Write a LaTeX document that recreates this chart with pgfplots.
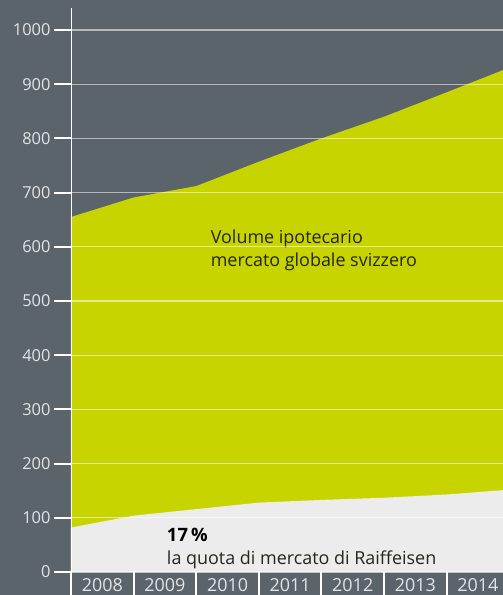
\documentclass[border=0pt]{standalone}
\usepackage{pgfplots}
\pgfplotsset{compat=1.18}
\usepackage{fontspec}
\setmainfont{Open Sans}
\definecolor{bg}{HTML}{5B646A}
\definecolor{lime}{HTML}{C8D400}
\definecolor{pale}{HTML}{ECECEC}
\definecolor{lbl}{HTML}{E2E5E7}
\definecolor{ink}{HTML}{25251E}
\begin{document}
\begin{tikzpicture}
\fill[bg] (-71bp,-23bp) rectangle (432bp,572bp);
\begin{axis}[
    at={(0,0)}, anchor=south west,
    scale only axis,
    width=432bp, height=564bp,
    xmin=0, xmax=6.9,
    ymin=0, ymax=1040.6,
    clip=false,
    axis on top,
    axis y line*=left,
    axis x line*=bottom,
    x axis line style={draw=none},
    y axis line style={white, line width=0.8bp, -},
    ytick={0,100,...,1000},
    ymajorgrids,
    grid style={white, opacity=0.55, line width=1.2bp},
    tick align=outside,
    major tick length=17bp,
    y tick style={white, line width=2bp},
    xtick={0.5,1.5,...,6.5},
    xticklabels={2008,2009,2010,2011,2012,2013,2014},
    x tick style={draw=none},
    ticklabel style={text=lbl},
    yticklabel style={font=\fontsize{16.5}{16.5}\selectfont},
    xticklabel style={font=\fontsize{18}{18}\selectfont, yshift=14bp},
    /pgf/number format/1000 sep={},
    /pgf/number format/assume math mode=true,
]
% Volume ipotecario, mercato svizzero
\addplot[fill=lime, draw=none] coordinates
{(0,655) (1,691) (2,712) (3,757) (4,800) (5,840) (6,885) (6.9,926)} \closedcycle;
% Raiffeisen
\addplot[fill=pale, draw=none] coordinates
{(0,82) (1,104) (2,116) (3,128) (4,133) (5,137) (6,143) (6.9,151)} \closedcycle;

\pgfplotsinvokeforeach{0,...,6}{
  \draw[white, line width=2bp] (axis cs:#1,0) -- ++(0,-23bp);
}

\node[anchor=base west, align=left, text=ink, inner sep=0pt,
      font=\fontsize{18}{23}\selectfont]
  at (axis cs:2.23,563) {Volume ipotecario\\mercato globale svizzero};
\node[anchor=base west, inner sep=0pt, text=black,
      font=\fontsize{18.5}{18.5}\selectfont\bfseries]
  at (axis cs:1.53,57) {17\,\%};
\node[anchor=base west, inner sep=0pt, text=ink,
      font=\fontsize{18}{18}\selectfont]
  at (axis cs:1.53,13) {la quota di mercato di Raiffeisen};
\end{axis}
\pgfresetboundingbox
\path (-71bp,-23bp) rectangle (432bp,572bp);
\end{tikzpicture}
\end{document}
